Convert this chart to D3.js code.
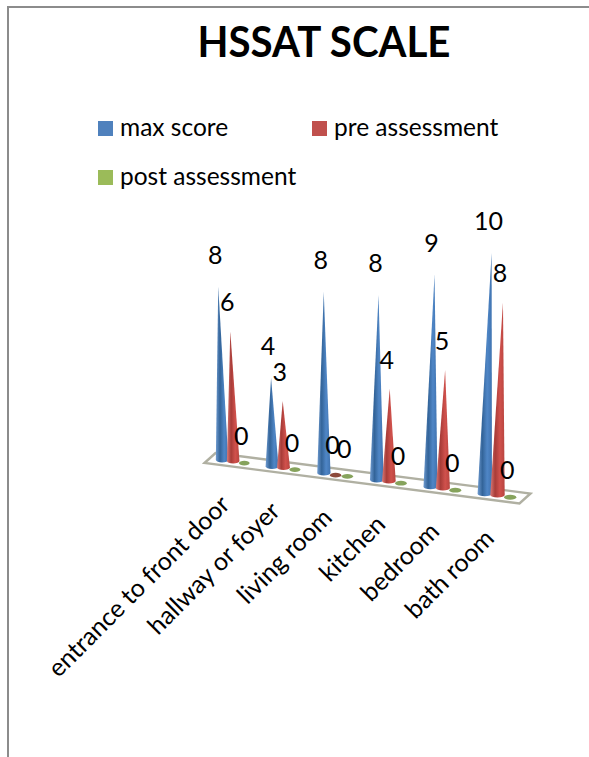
<!DOCTYPE html>
<html>
<head>
<meta charset="utf-8">
<script src="https://cdn.jsdelivr.net/npm/d3@7"></script>
<style>
  html, body { margin: 0; padding: 0; background: #fff; }
  svg { display: block; }
  text { font-family: Lato, "Open Sans", sans-serif; fill: #000; }
</style>
</head>
<body>
<svg id="chart" width="589" height="757"></svg>
<script>
const categories = ["entrance to front door", "hallway or foyer", "living room", "kitchen", "bedroom", "bath room"];
const seriesNames = ["max score", "pre assessment", "post assessment"];
const maxScore = [8, 4, 8, 8, 9, 10];
const preAssessment = [6, 3, 0, 4, 5, 8];
const postAssessment = [0, 0, 0, 0, 0, 0];
const seriesValues = [maxScore, preAssessment, postAssessment];
const seriesColors = ["#4F81BD", "#C0504D", "#9BBB59"];
const coneStops = [
  ["#6f9bd0", "#336499", "#4f86c6", "#3f73b0"],
  ["#d97a76", "#a83c38", "#d0514c", "#b8443f"]
];
const flatColors = ["#3f73b0", "#8c4a3c", "#86a35c"];

const svg = d3.select("#chart");

// Frame of the chart area: only the top and left edges are visible.
svg.append("path")
  .attr("d", "M8,757V7H589")
  .attr("fill", "none")
  .attr("stroke", "#8c8c8c")
  .attr("stroke-width", 2);

svg.append("text")
  .attr("x", 324)
  .attr("y", 57)
  .attr("text-anchor", "middle")
  .attr("font-size", 42)
  .attr("font-weight", 700)
  .attr("textLength", 253)
  .attr("lengthAdjust", "spacingAndGlyphs")
  .text("HSSAT SCALE");

// Legend, two columns wrapping to a second row.
const legendX = d3.scaleOrdinal().domain(seriesNames).range([98, 312, 98]);
const legendY = d3.scaleOrdinal().domain(seriesNames).range([121, 121, 170]);
const legend = svg.append("g").selectAll("g").data(seriesNames).join("g")
  .attr("transform", d => `translate(${legendX(d)},${legendY(d)})`);
legend.append("rect")
  .attr("width", 15)
  .attr("height", 15)
  .attr("fill", (d, i) => seriesColors[i]);
legend.append("text")
  .attr("x", 22)
  .attr("y", 15)
  .attr("font-size", 24.5)
  .text(d => d);

// Oblique projection of the 3D plot: category position runs along the floor,
// and spacing grows slightly towards the viewer.
const catT = d3.scalePoint().domain(categories).range([0, 1]).padding(0.5);
const floorX = d3.scalePow().exponent(1.05).domain([0, 1]).range([210, 525]);
const floorY = d3.scalePow().exponent(1.05).domain([0, 1]).range([458, 498.5]);
const zoomAt = d3.scaleLinear().domain([0, 1]).range([0.95, 1.12]);
const seriesOffset = d3.scalePoint().domain(d3.range(3)).range([-11.5, 11.5]);
const unitPx = d3.scaleLinear().domain([0, 1]).range([21.4, 24.3]);
const leanPerUnit = d3.scaleLinear().domain([0, 1]).range([-0.6, 0.8]);
const depthX = d3.scaleLinear().domain([-1, 1]).range([-5.5, 5.5]);
const depthY = d3.scaleLinear().domain([-1, 1]).range([5, -5]);
const labelLift = d3.scaleOrdinal().domain(d3.range(3)).range([32, 29, 26]);

function basePoint(t, s) {
  const off = seriesOffset(s) * zoomAt(t);
  return [floorX(t) + off, floorY(t) + off * 0.1];
}
function tipPoint(t, s, v) {
  const [x, y] = basePoint(t, s);
  return [x + leanPerUnit(t) * v, y - unitPx(t) * v];
}

// Floor slab.
const floorCorners = [[0, -1], [0, 1], [1, 1], [1, -1]]
  .map(([t, d]) => [floorX(t) + depthX(d), floorY(t) + depthY(d)]);
const floorLine = d3.line().curve(d3.curveLinearClosed);
svg.append("path")
  .attr("d", floorLine(floorCorners))
  .attr("fill", "#fff")
  .attr("stroke", "#b0b0a2")
  .attr("stroke-width", 2.4);

// Shading across a cone: lit edge, dark core, lit flank.
const defs = svg.append("defs");
coneStops.forEach((stops, s) => {
  const g = defs.append("linearGradient").attr("id", `cone${s}`);
  stops.forEach((c, i) => g.append("stop").attr("offset", i / (stops.length - 1)).attr("stop-color", c));
});

const marks = svg.append("g");
categories.forEach((cat, c) => {
  const t = catT(cat);
  seriesValues.forEach((vals, s) => {
    const v = vals[c];
    const [bx, by] = basePoint(t, s);
    const rx = 6.5 * zoomAt(t);
    if (v === 0) {
      marks.append("ellipse")
        .attr("cx", bx).attr("cy", by + 1)
        .attr("rx", rx * 0.85).attr("ry", 2.4)
        .attr("fill", flatColors[s]);
    } else {
      const [tx, ty] = tipPoint(t, s, v);
      marks.append("path")
        .attr("d", `M${bx - rx},${by}L${tx},${ty}L${bx + rx},${by}A${rx},2.6 0 0 1 ${bx - rx},${by}Z`)
        .attr("fill", `url(#cone${s})`);
    }
  });
});

// Value labels sit just above each cone tip, drawn over the marks.
const labels = svg.append("g").attr("font-size", 25).attr("text-anchor", "middle");
seriesValues.forEach((vals, s) => {
  categories.forEach((cat, c) => {
    const [tx, ty] = tipPoint(catT(cat), s, vals[c]);
    labels.append("text")
      .attr("x", tx - 3)
      .attr("y", ty - labelLift(s))
      .attr("dy", "0.36em")
      .text(vals[c]);
  });
});

// Category labels, rotated and anchored at their end under each group.
const axisLabels = svg.append("g").attr("font-size", 25).attr("text-anchor", "end");
categories.forEach(cat => {
  const t = catT(cat);
  axisLabels.append("text")
    .attr("transform", `translate(${floorX(t) - 2},${floorY(t) + 45}) rotate(-45)`)
    .text(cat);
});
</script>
</body>
</html>
